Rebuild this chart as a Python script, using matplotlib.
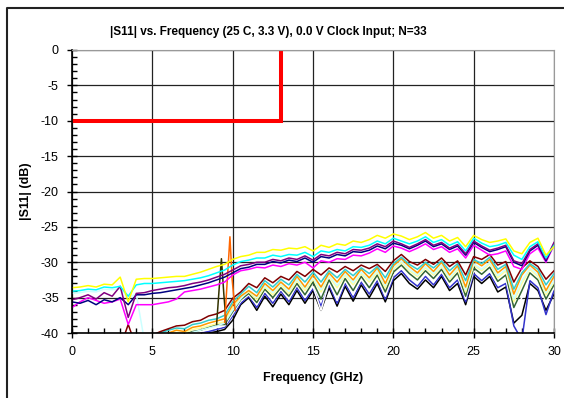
import numpy as np
import matplotlib
matplotlib.use('Agg')
import matplotlib.pyplot as plt
from matplotlib.lines import Line2D
from matplotlib.ticker import MultipleLocator

plt.rcParams['font.family'] = ['Liberation Sans', 'DejaVu Sans']
plt.rcParams['axes.unicode_minus'] = False

# sample grid, 0 to 30 GHz every 0.5 GHz
freq = np.arange(0, 30.25, 0.5)

title = '|S11| vs. Frequency (25 C, 3.3 V), 0.0 V Clock Input; N=33'
spec_freq = [0, 13, 13]
spec_db = [-10, -10, 0]

# upper group of parts (dB)
yellow_db = [-33.6, -33.5, -33.3, -33.5, -33.1, -33.2, -32.1, -35.6, -32.4, -32.3,
             -32.3, -32.2, -32.1, -32.0, -32.0, -31.7, -31.4, -31.0, -30.6, -30.3,
             -29.6, -29.2, -29.0, -28.6, -28.6, -28.2, -28.3, -28.0, -28.1, -27.8,
             -28.4, -27.6, -27.9, -27.4, -27.6, -27.0, -27.2, -26.8, -26.2, -26.6,
             -26.0, -26.3, -26.8, -26.4, -25.8, -26.6, -26.2, -27.0, -26.5, -27.8,
             -26.2, -26.8, -27.2, -27.0, -26.7, -28.4, -28.8, -27.2, -26.6, -29.0, -27.8]
cyan_db = [-34.1, -34.0, -33.8, -33.9, -33.5, -33.6, -33.4, -34.8, -33.2, -33.0,
           -33.0, -32.9, -32.8, -32.7, -32.6, -32.4, -32.2, -31.9, -31.5, -31.1,
           -30.4, -29.9, -29.7, -29.4, -29.4, -29.0, -29.2, -28.9, -29.0, -28.6,
           -29.2, -28.4, -28.6, -28.2, -28.4, -27.8, -27.9, -27.6, -27.0, -27.4,
           -26.6, -27.0, -27.4, -27.0, -26.4, -27.2, -26.8, -27.6, -27.1, -28.4,
           -26.6, -27.3, -27.8, -27.6, -27.2, -29.0, -29.6, -27.8, -27.1, -29.4, -27.6]
purple_db = [-35.3, -35.0, -34.6, -35.2, -34.3, -34.8, -33.4, -37.8, -34.4, -34.3,
             -34.0, -33.8, -33.6, -33.5, -33.3, -33.0, -32.8, -32.5, -32.1, -31.7,
             -31.1, -30.5, -30.3, -30.0, -30.0, -29.6, -29.8, -29.4, -29.6, -29.1,
             -29.7, -28.9, -29.1, -28.6, -28.8, -28.2, -28.3, -28.0, -27.4, -27.8,
             -27.0, -27.4, -27.9, -27.4, -26.8, -27.6, -27.2, -28.0, -27.5, -28.8,
             -27.0, -27.7, -28.3, -28.0, -27.6, -29.8, -30.2, -28.2, -27.4, -29.6, -27.2]
navy_db = [-35.6, -35.8, -35.4, -36.0, -35.3, -35.6, -35.0, -36.0, -34.6, -34.6,
           -34.4, -34.3, -34.1, -33.9, -33.7, -33.5, -33.2, -32.9, -32.5, -32.1,
           -31.5, -30.9, -30.7, -30.3, -30.3, -29.9, -30.1, -29.7, -29.9, -29.4,
           -30.0, -29.2, -29.4, -28.9, -29.1, -28.5, -28.6, -28.3, -27.7, -28.1,
           -27.3, -27.6, -28.1, -27.6, -27.0, -27.8, -27.4, -28.2, -27.7, -29.0,
           -27.2, -27.9, -28.5, -28.2, -27.8, -30.0, -30.5, -28.4, -27.6, -29.8, -27.4]
magenta_db = [-36.4, -35.6, -35.0, -35.4, -35.8, -35.6, -35.2, -38.8, -36.0, -36.0,
              -36.0, -35.8, -35.6, -35.2, -34.2, -34.0, -33.8, -33.5, -33.2, -32.8,
              -31.8, -31.2, -31.0, -30.7, -30.8, -30.4, -30.6, -30.2, -30.4, -30.0,
              -30.8, -29.8, -30.0, -29.5, -29.6, -29.0, -29.1, -28.7, -28.1, -28.6,
              -27.7, -28.0, -28.5, -28.0, -27.4, -28.2, -27.8, -28.6, -28.1, -29.4,
              -27.6, -28.3, -29.0, -28.8, -28.4, -30.6, -31.0, -28.8, -28.0, -30.0, -27.6]

# lower group of parts (dB); values under -40 fall off the chart
maroon_db = [-42, -42, -42, -42, -42, -42, -42, -38.8, -42, -42,
             -40.3, -39.8, -39.4, -39.0, -38.9, -38.4, -38.2, -37.6, -37.3, -36.8,
             -35.1, -34.2, -33.0, -33.6, -32.2, -32.9, -32.0, -32.5, -31.3, -32.0,
             -31.0, -31.8, -30.8, -31.4, -30.6, -31.2, -30.4, -30.9, -30.3, -31.3,
             -29.8, -28.9, -29.9, -30.4, -29.6, -30.3, -29.4, -30.6, -29.8, -31.8,
             -29.2, -29.6, -28.9, -30.4, -29.9, -32.8, -30.8, -29.8, -30.6, -32.4, -31.2]
sky_db = [-42, -42, -42, -42, -42, -42, -42, -42, -42, -42,
          -40.6, -40.0, -39.6, -39.3, -39.4, -38.8, -38.6, -38.2, -38.0, -37.5,
          -35.6, -34.5, -33.4, -34.3, -32.6, -33.5, -32.4, -33.2, -31.7, -32.8,
          -31.4, -32.8, -31.2, -32.2, -31.0, -31.9, -30.8, -31.6, -30.6, -32.2,
          -30.2, -29.3, -30.3, -31.0, -30.0, -30.8, -29.8, -31.2, -30.2, -32.6,
          -29.6, -30.2, -29.3, -31.0, -30.3, -33.8, -31.5, -30.2, -31.0, -33.2, -31.6]
gold_db = [-42, -42, -42, -42, -42, -42, -42, -42, -42, -42,
           -41.0, -40.5, -40.0, -39.6, -39.8, -39.2, -39.0, -38.6, -38.3, -38.0,
           -36.0, -34.8, -34.0, -34.8, -33.0, -34.0, -32.8, -33.8, -32.0, -33.5,
           -31.8, -33.5, -31.5, -32.8, -31.3, -32.5, -31.0, -32.2, -30.8, -33.0,
           -30.5, -29.5, -30.6, -31.5, -30.2, -31.3, -30.0, -31.8, -30.5, -33.5,
           -29.8, -30.5, -29.6, -31.5, -30.6, -34.5, -31.8, -30.4, -31.4, -34.0, -32.0]
ltcyan_db = [-34.4, -34.3, -34.1, -34.2, -33.8, -33.9, -33.7, -35.0, -34.5, -41.0,
             -41.8, -41.4, -40.8, -40.2, -40.4, -39.9, -39.6, -39.3, -39.0, -38.6,
             -36.8, -35.2, -34.0, -35.0, -33.3, -34.3, -33.0, -34.1, -32.4, -33.7,
             -32.2, -33.9, -31.8, -33.3, -31.6, -32.9, -31.4, -32.5, -31.2, -33.3,
             -30.8, -29.8, -31.0, -31.8, -30.6, -31.6, -30.4, -32.2, -30.8, -33.9,
             -30.2, -31.0, -30.0, -31.9, -31.0, -35.2, -32.6, -30.8, -31.8, -34.3, -32.6]
ltyellow_db = [-42, -42, -42, -42, -42, -42, -42, -42, -42, -42,
               -41.2, -40.8, -40.3, -39.9, -40.0, -39.5, -39.3, -39.0, -38.7, -38.4,
               -36.5, -35.0, -34.2, -35.3, -33.5, -34.6, -33.2, -34.4, -32.6, -34.0,
               -32.4, -34.2, -32.0, -33.6, -31.8, -33.2, -31.6, -32.8, -31.4, -33.6,
               -31.0, -30.0, -31.2, -32.0, -30.8, -31.8, -30.6, -32.4, -31.0, -34.2,
               -30.4, -31.2, -30.2, -32.2, -31.2, -35.6, -33.0, -31.0, -32.0, -34.6, -32.8]
olive_db = [-42, -42, -42, -42, -42, -42, -42, -42, -42, -42,
            -41.4, -41.0, -40.6, -40.2, -40.2, -39.8, -39.6, -39.2, -38.8, -38.8,
            -37.0, -35.3, -34.4, -35.7, -33.8, -35.0, -33.6, -34.8, -33.0, -34.6,
            -32.8, -35.2, -32.5, -34.6, -32.3, -34.0, -32.0, -33.6, -31.8, -34.2,
            -31.4, -30.4, -31.6, -32.5, -31.2, -32.3, -31.0, -32.8, -31.5, -34.8,
            -30.8, -31.7, -30.7, -32.7, -31.8, -36.4, -34.0, -31.5, -32.5, -35.2, -33.2]
white_db = [-42, -42, -42, -42, -42, -42, -42, -42, -42, -42,
            -41.6, -41.2, -40.8, -40.4, -40.5, -40.0, -39.8, -39.5, -39.2, -39.0,
            -37.3, -35.5, -34.6, -36.0, -34.0, -35.4, -33.8, -35.2, -33.2, -35.0,
            -33.4, -36.8, -32.8, -35.4, -32.6, -34.6, -32.4, -34.0, -32.2, -34.8,
            -31.8, -30.8, -32.0, -33.0, -31.6, -32.8, -31.3, -33.2, -32.0, -35.2,
            -31.2, -32.2, -31.2, -33.2, -32.4, -37.0, -35.0, -32.0, -33.0, -35.6, -33.6]
blue_db = [-42, -42, -42, -42, -42, -42, -42, -42, -42, -42,
           -42.0, -41.5, -41.0, -40.6, -40.6, -40.2, -40.0, -39.8, -39.5, -39.2,
           -37.6, -35.8, -34.8, -36.4, -34.4, -35.8, -34.1, -35.6, -33.6, -35.4,
           -33.7, -36.2, -33.2, -35.8, -33.0, -35.0, -32.8, -34.5, -32.6, -35.2,
           -32.2, -31.2, -32.5, -33.4, -32.0, -33.2, -31.7, -33.6, -32.5, -35.6,
           -31.6, -32.6, -31.6, -33.6, -33.0, -39.0, -41.0, -32.6, -33.6, -37.4, -34.0]
black_db = [-42, -42, -42, -42, -42, -42, -42, -42, -42, -42,
            -42.0, -42.0, -41.5, -41.0, -40.8, -40.5, -40.3, -40.0, -39.8, -39.5,
            -38.2, -36.0, -35.0, -36.8, -34.8, -36.3, -34.5, -36.0, -34.0, -35.8,
            -34.0, -36.8, -33.6, -36.2, -33.4, -35.5, -33.2, -35.0, -33.0, -35.6,
            -32.6, -31.6, -33.0, -33.8, -32.5, -33.6, -32.0, -34.0, -33.0, -36.0,
            -32.0, -33.0, -32.0, -34.2, -33.5, -38.6, -37.5, -33.0, -34.0, -36.8, -34.5]

# narrow resonances near 9-10 GHz
olive_spike_freq = [9.0, 9.15, 9.3, 9.45, 9.6]
olive_spike_db = [-38.8, -34.0, -29.5, -34.5, -38.8]
orange_spike_freq = [9.5, 9.68, 9.83, 9.97, 10.15]
orange_spike_db = [-38.5, -32.0, -26.4, -32.5, -36.8]

lower_series = [
    (black_db, '#000000'), (blue_db, '#3333CC'), (white_db, '#FFFFFF'),
    (olive_db, '#336633'), (ltyellow_db, '#FFFF99'), (ltcyan_db, '#CCFFFF'),
    (gold_db, '#FF9900'), (sky_db, '#33CCCC'), (maroon_db, '#800000'),
]
upper_series = [
    (magenta_db, '#FF00FF'), (navy_db, '#000080'), (purple_db, '#800080'),
    (cyan_db, '#00FFFF'), (yellow_db, '#FFFF00'),
]


def main():
    fig = plt.figure(figsize=(5.64, 3.98), dpi=100)
    ax = fig.add_axes([72 / 564, 1 - 333 / 398, 482 / 564, 283 / 398])

    for values, color in lower_series:
        ax.plot(freq, values, color=color, lw=1.1)
    ax.plot(olive_spike_freq, olive_spike_db, color='#333300', lw=1.1)
    ax.plot(orange_spike_freq, orange_spike_db, color='#FF6600', lw=1.1)
    for values, color in upper_series:
        ax.plot(freq, values, color=color, lw=1.1)
    ax.plot(spec_freq, spec_db, color='#FF0000', lw=2.9, solid_joinstyle='miter')

    ax.set_xlim(0, 30)
    ax.set_ylim(-40, 0)
    ax.xaxis.set_major_locator(MultipleLocator(5))
    ax.xaxis.set_minor_locator(MultipleLocator(1))
    ax.yaxis.set_major_locator(MultipleLocator(5))
    ax.yaxis.set_minor_locator(MultipleLocator(1))
    ax.grid(True, which='major', color='#222222', lw=0.9)
    ax.set_axisbelow(True)
    ax.tick_params(which='major', direction='inout', length=7, width=1, labelsize=9, pad=6)
    ax.tick_params(which='minor', direction='in', length=3.5, width=1)
    for side in ['top', 'right']:
        ax.spines[side].set_color('#999999')
    for side in ['left', 'bottom']:
        ax.spines[side].set_linewidth(1.2)

    ax.set_xlabel('Frequency (GHz)', fontsize=9, fontweight='bold', labelpad=10)
    ax.set_ylabel('|S11| (dB)', fontsize=9, fontweight='bold', labelpad=6)
    fig.text(0.476, 1 - 32 / 398, title, fontsize=8.5, fontweight='bold',
             ha='center', va='center')

    # outer chart frame (right and bottom edges fall outside the image)
    fig.add_artist(Line2D([7 / 564, 7 / 564, 1.0], [0.0, 1 - 8 / 398, 1 - 8 / 398],
                          transform=fig.transFigure, color='#222222', lw=1.5))

    fig.savefig('out.png', dpi=100)


if __name__ == '__main__':
    main()
